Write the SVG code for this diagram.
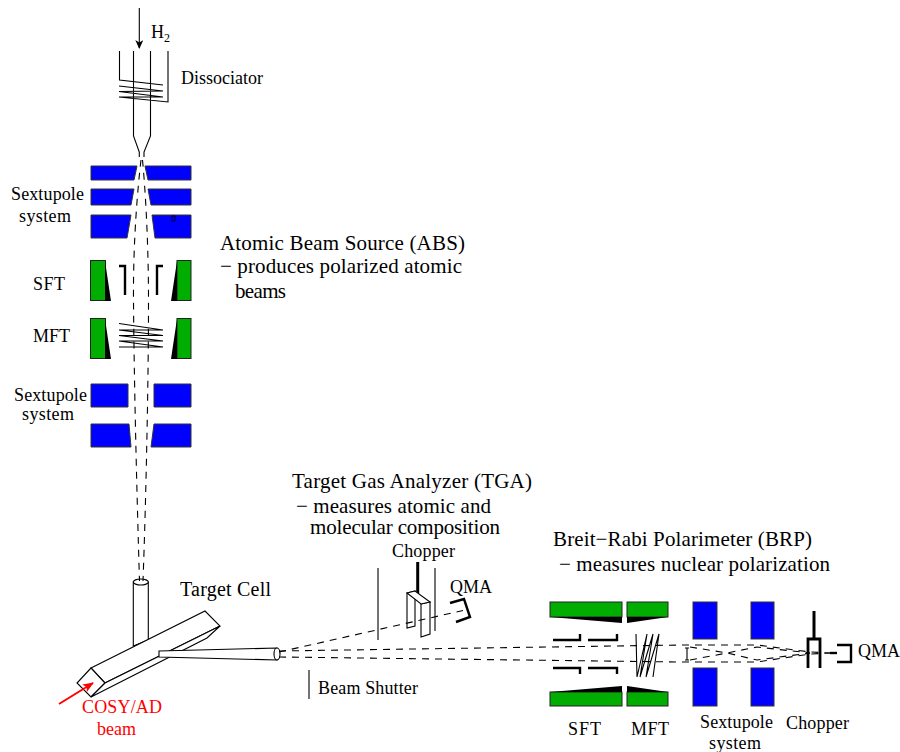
<svg xmlns="http://www.w3.org/2000/svg" width="900" height="752" viewBox="0 0 900 752">
<style>
text{font-family:"Liberation Serif","Times New Roman",serif;fill:#000}
.s{font-size:18px}.m{font-size:20px}.l{font-size:21px}
.red{fill:#f00}
.b{fill:#0000ff;stroke:#333;stroke-width:1}
.g{fill:#00ad00;stroke:#222;stroke-width:1}
.k{fill:#000;stroke:none}
.ln{fill:none;stroke:#000;stroke-width:1.1}
.th{fill:none;stroke:#000;stroke-width:2.4}
.d{fill:none;stroke:#000;stroke-width:1.1;stroke-dasharray:7 6}
.w{fill:#fff;stroke:#000;stroke-width:1.1}
</style>
<defs>
<marker id="a" markerWidth="10" markerHeight="12" refX="8" refY="4" orient="auto" markerUnits="userSpaceOnUse"><path d="M0 0L9 4L0 8L2.500 4Z" fill="#000"/></marker>
<marker id="r" markerWidth="12" markerHeight="12" refX="10" refY="4.500" orient="auto" markerUnits="userSpaceOnUse"><path d="M0 0L11 4.500L0 9L2.500 4.500Z" fill="#f00"/></marker>
</defs>

<g id="dissociator">
<path class="ln" d="M119.500 51V80L163 85M119 86L163 91L119 91.500L163 97L119 97L168 102V51M133.500 51V136L139.300 152V157M150.500 51V136L144 152V157"/>
<text class="s" x="151" y="38">H</text>
<text x="164" y="42" font-size="12">2</text>
<text class="s" x="181" y="84" textLength="82">Dissociator</text>
</g>

<g id="sextupole-top">
<path class="b" d="M91 166H137L134 180H91ZM145 166H191V180H148ZM91 189H134L131 205H91ZM148 189H191V205H151ZM91 215H131L127 238H91ZM152 215H191V238H155Z"/>
<rect x="172" y="216" width="3" height="5" fill="none" stroke="#000" stroke-width="0.8"/>
<text class="s" x="11" y="200" textLength="73">Sextupole</text>
<text class="s" x="19" y="222" textLength="52">system</text>
</g>

<g id="abs-label">
<text class="l" x="220" y="250" textLength="245">Atomic Beam Source (ABS)</text>
<text class="l" x="220" y="273" textLength="242">− produces polarized atomic</text>
<text class="l" x="235" y="298" textLength="51">beams</text>
</g>

<g id="sft-top">
<rect class="g" x="90.500" y="260.500" width="15" height="40"/>
<rect class="g" x="177" y="260.500" width="14" height="40"/>
<path class="k" d="M105 261L111 301H105ZM177 261L171 301H177Z"/>
<path class="th" d="M119 266H125V295M163 266H157V295"/>
<text class="s" x="33" y="290" textLength="32">SFT</text>
</g>

<g id="mft-top">
<rect class="g" x="90.500" y="318.500" width="15" height="40"/>
<rect class="g" x="177" y="318.500" width="14" height="40"/>
<path class="k" d="M105 319L111 359H105ZM177 319L171 359H177Z"/>
<path class="ln" d="M119 323.500L163 330L119 330L163 335.500L119 335.500L163 341L119 341L163 347L119 347"/>
<text class="s" x="33" y="342" textLength="37">MFT</text>
</g>

<g id="sextupole-lower">
<path class="b" d="M91 384H128V407H91ZM154 384H191V407H154ZM91 424H129L131 447H91ZM154 424H191V447H151Z"/>
<text class="s" x="14" y="401" textLength="73">Sextupole</text>
<text class="s" x="22" y="420" textLength="52">system</text>
</g>

<g id="target-cell">
<path class="w" d="M133.300 646V582H148.300V640Z"/>
<ellipse class="w" cx="140.800" cy="582" rx="7.500" ry="3"/>
<path class="w" d="M91 668L205 611L220 626L105 683Z"/>
<path class="w" d="M91 668L77 683L91 697L105 683Z"/>
<path class="w" d="M91 697L207 638L220 626L105 683Z"/>
<path class="w" d="M159 651L277 648V660L159 657Z"/>
<ellipse class="w" cx="277" cy="654" rx="3" ry="6"/>
<text class="m" x="180" y="596" textLength="91">Target Cell</text>
<text class="s red" x="82" y="713" textLength="80">COSY/AD</text>
<text class="s red" x="97" y="735" textLength="39">beam</text>
</g>

<g id="tga">
<path class="ln" d="M378 568V640M435 568V631"/>
<path class="th" style="stroke-width:3" d="M417.700 562V596"/>
<path class="w" d="M407 593L415 591V626L407 628Z"/>
<path class="w" d="M421 604L430 602V634L421 637Z"/>
<path class="w" d="M407 593L415 591L430 602L421 604Z"/>
<path class="th" d="M450 603L464 599L470 617L456 622"/>
<text class="l" x="292" y="488" textLength="240">Target Gas Analyzer (TGA)</text>
<text class="l" x="296" y="513" textLength="195">− measures atomic and</text>
<text class="l" x="310" y="534" textLength="190">molecular composition</text>
<text class="s" x="392" y="557" textLength="63">Chopper</text>
<text class="s" x="450" y="593" textLength="42">QMA</text>
</g>

<g id="beam-shutter">
<path class="ln" d="M309 670V699"/>
<text class="s" x="318" y="694" textLength="100">Beam Shutter</text>
</g>

<g id="sft-brp">
<rect class="g" x="550" y="602" width="72" height="15"/>
<rect class="g" x="550" y="692" width="72" height="14"/>
<path class="k" d="M550 617H622V623ZM550 692L622 686V692Z"/>
<path class="th" d="M553 640H580V634M588 640H617V634M553 668H580V674M588 668H617V674"/>
<text class="s" x="568" y="735" textLength="33">SFT</text>
</g>

<g id="mft-brp">
<rect class="g" x="627" y="602" width="41" height="15"/>
<rect class="g" x="627" y="692" width="41" height="14"/>
<path class="k" d="M627 617H668L627 623ZM627 692V686L668 692Z"/>
<path class="ln" d="M636 634L637 677L647 634L640 677L653 634L646 677L659 634L653 677"/>
<text class="s" x="631" y="735" textLength="38">MFT</text>
</g>

<g id="sextupole-brp">
<path class="ln" d="M685 648H689M687 648V660M685 660H689"/>
<rect class="b" x="693" y="602" width="24" height="37"/>
<rect class="b" x="751" y="602" width="23" height="37"/>
<rect class="b" x="693" y="668" width="24" height="38"/>
<rect class="b" x="751" y="668" width="23" height="38"/>
<text class="s" x="700" y="728" textLength="73">Sextupole</text>
<text class="s" x="709" y="749" textLength="52">system</text>
</g>

<g id="chopper-brp">
<path class="th" style="stroke-width:3" d="M814 611V639"/>
<path class="th" style="stroke-width:2.800" d="M808 668V639H820V668"/>
<path class="th" d="M837 645H851V662H837"/>
<text class="s" x="786" y="729" textLength="63">Chopper</text>
<text class="s" x="858" y="657" textLength="42">QMA</text>
</g>

<g id="brp-label">
<text class="l" x="553" y="546" textLength="259">Breit−Rabi Polarimeter (BRP)</text>
<text class="l" x="559" y="571" textLength="271">− measures nuclear polarization</text>
</g>

<g id="connectors">
<path id="h2-arrow" class="ln" marker-end="url(#a)" d="M139.300 8V48"/>
<path class="d" d="M141 160C138 185 133 240 133.500 300C134 380 137 500 139.500 581"/>
<path class="d" d="M142.500 160C145 185 148.500 240 148.500 300C148.500 380 146 500 143 581"/>
<path class="d" d="M279 652L463 610.500"/>
<path class="d" d="M279 651L682 645H757L810 652L830 653"/>
<path class="d" d="M279 657L682 662H757L810 654L830 653"/>
<path class="d" d="M690 647L727 653L757 647L810 653"/>
<path class="d" d="M690 660L727 653L757 660L810 653"/>
<path class="th" d="M830 653H837"/>
<path id="cosy-arrow" fill="none" stroke="#f00" stroke-width="2" marker-end="url(#r)" d="M59 704L93 683"/>
</g>
</svg>
